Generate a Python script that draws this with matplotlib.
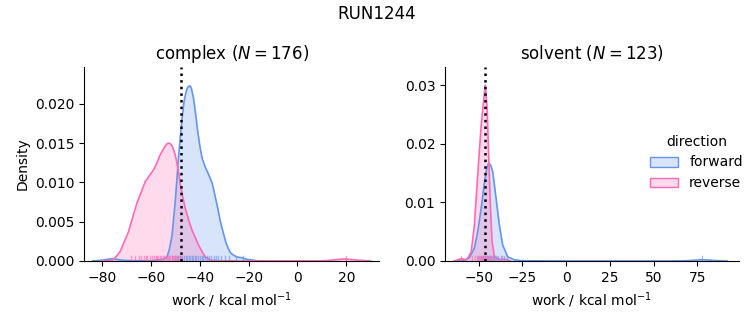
import matplotlib
matplotlib.use("Agg")
import matplotlib.pyplot as plt
from matplotlib.patches import Patch

FWD = "cornflowerblue"
REV = "hotpink"

# ---- complex panel: density curves ----
cx_fwd_x = [-84, -80, -76, -72, -68, -60, -55, -53.5, -52.5, -51.4, -50.1, -48.7, -47.3, -46.5, -45.6, -45.0,
            -44.2, -43.6, -42.6, -41.8, -40.9, -40.0, -39.1, -38.0, -37.0, -36.0, -35.0, -34.3, -33.6, -32.6,
            -31.6, -30.5, -29.5, -28.4, -27.4, -26.0, -24.7, -22.6, -20.6, -16.5, -12]
cx_fwd_y = [0, 0.0001, 0.0003, 0.0001, 0.00003, 0.00003, 0.0002, 0.0005, 0.0015, 0.0033, 0.0076, 0.0135, 0.0182,
            0.0203, 0.0216, 0.0221, 0.0223, 0.0221, 0.0207, 0.0188, 0.0165, 0.0146, 0.0131, 0.0121, 0.0114,
            0.0107, 0.0099, 0.0090, 0.0080, 0.0066, 0.0050, 0.0037, 0.0025, 0.0016, 0.0010, 0.0007, 0.0005,
            0.0004, 0.0002, 0.00003, 0]
cx_rev_x = [-80, -76, -74.8, -72.7, -69.3, -65.9, -62.4, -59.0, -57.6, -56.3, -54.3, -53.5, -52.8, -52.0, -51.3,
            -50.1, -49.0, -48.0, -47.0, -46.0, -44.6, -43.2, -41.8, -40.5, -39.0, -37.7, -35.7, -32, -20, 10, 14,
            17, 19.2, 21.5, 25, 30]
cx_rev_y = [0, 0.0001, 0.0004, 0.0012, 0.0037, 0.0073, 0.0101, 0.0116, 0.0125, 0.0135, 0.0146, 0.0149, 0.0150,
            0.0149, 0.0146, 0.0135, 0.0118, 0.0097, 0.0081, 0.0067, 0.0052, 0.0039, 0.0029, 0.0020, 0.0011,
            0.0005, 0.0001, 0.00002, 0, 0.00002, 0.0001, 0.0002, 0.00025, 0.0002, 0.0001, 0]
cx_rug_fwd = [-51.4, -50.3, -49.5, -48.8, -48.0, -47.2, -46.5, -45.9, -45.2, -44.6, -44.0, -43.4, -42.8, -42.1,
              -41.5, -40.8, -40.1, -39.3, -38.6, -37.8, -37.0, -36.2, -35.3, -34.4, -33.5, -32.4, -31.2, -29.8,
              -28.1, -25.4, -22.3]
cx_rug_rev = [-68.2, -66.5, -65.1, -64.0, -62.8, -62.0, -61.5, -60.6, -59.8, -58.9, -58.0, -57.6, -57.2, -56.5,
              -55.9, -55.1, -54.6, -54.0, -53.4, -53.0, -52.8, -52.1, -51.5, -50.9, -50.5, -50.2, -49.6, -49.0,
              -48.3, -47.7, 19.8]
cx_dg = -47.7
cx_n = 176

# ---- solvent panel ----
sv_fwd_x = [-62, -58.1, -55.3, -52.5, -50.6, -48.6, -46.7, -45.4, -44.3, -43.1, -42, -40.1, -38.2, -36.3, -33.4,
            -29.6, -25, 0, 60, 70, 74, 78, 82, 86, 92]
sv_fwd_y = [0, 0.0001, 0.0006, 0.0022, 0.005, 0.009, 0.0135, 0.0158, 0.0167, 0.0163, 0.0152, 0.0107, 0.0061,
            0.0027, 0.0007, 0.0002, 0.00003, 0, 0, 0.00005, 0.00015, 0.0002, 0.00015, 0.00005, 0]
sv_rev_x = [-64, -60, -57.5, -56.2, -54.3, -52.5, -50.6, -48.6, -46.3, -45.2, -44.3, -43.3, -42.4, -41, -38,
            -35.3, -32]
sv_rev_y = [0, 0.0004, 0.0002, 0.0005, 0.0016, 0.0061, 0.0147, 0.0232, 0.030, 0.026, 0.0175, 0.009, 0.0033,
            0.0007, 0.0002, 0.0003, 0]
sv_rug_fwd = [-50.5, -48.8, -47.4, -46.3, -45.3, -44.5, -43.7, -42.9, -42.1, -41.2, -40.2, -39.0, -37.5, -35.8,
              -33.6, 77.9]
sv_rug_rev = [-60.0, -53.6, -52.2, -51.0, -50.1, -49.3, -48.6, -48.0, -47.4, -46.8, -46.2, -45.6, -45.0, -44.3,
              -43.5, -42.4, -40.5, -36.5]
sv_dg = -46.3
sv_n = 123

fig = plt.figure(figsize=(7.53, 3.25), dpi=100)
ax1 = fig.add_axes([0.1116, 0.197, 0.392, 0.597])
ax2 = fig.add_axes([0.591, 0.197, 0.390, 0.597])


def draw(ax, fx, fy, rx, ry, rugf, rugr, dg):
    for x, y, c in ((fx, fy, FWD), (rx, ry, REV)):
        ax.fill_between(x, y, 0, color=c, alpha=0.25, linewidth=0)
        ax.plot(x, y, color=c, lw=1.2)
    for vals, c in ((rugf, FWD), (rugr, REV)):
        for v in vals:
            ax.axvline(v, ymin=0, ymax=0.028, color=c, alpha=0.6, lw=1)
    ax.axvline(dg, color="black", ls=":", lw=1.8)
    ax.spines["top"].set_visible(False)
    ax.spines["right"].set_visible(False)
    ax.set_xlabel("work / kcal mol$^{-1}$")


draw(ax1, cx_fwd_x, cx_fwd_y, cx_rev_x, cx_rev_y, cx_rug_fwd, cx_rug_rev, cx_dg)
ax1.set_xlim(-87.5, 33.5)
ax1.set_ylim(0, 0.0247)
ax1.set_xticks([-80, -60, -40, -20, 0, 20])
ax1.set_yticks([0, 0.005, 0.010, 0.015, 0.020])
ax1.set_yticklabels(["0.000", "0.005", "0.010", "0.015", "0.020"])
ax1.set_ylabel("Density")
ax1.set_title(f"complex ($N = {cx_n}$)")

draw(ax2, sv_fwd_x, sv_fwd_y, sv_rev_x, sv_rev_y, sv_rug_fwd, sv_rug_rev, sv_dg)
ax2.set_xlim(-69.3, 98.7)
ax2.set_ylim(0, 0.0331)
ax2.set_xticks([-50, -25, 0, 25, 50, 75])
ax2.set_yticks([0, 0.01, 0.02, 0.03])
ax2.set_yticklabels(["0.00", "0.01", "0.02", "0.03"])
ax2.set_title(f"solvent ($N = {sv_n}$)")

handles = [Patch(facecolor=(0.392, 0.584, 0.929, 0.25), edgecolor=FWD, label="forward"),
           Patch(facecolor=(1.0, 0.412, 0.706, 0.25), edgecolor=REV, label="reverse")]
fig.legend(handles=handles, title="direction", frameon=False, loc="center right",
           bbox_to_anchor=(1.003, 0.5), fontsize=10, title_fontsize=10)

fig.suptitle("RUN1244", y=0.985, fontsize=12)
fig.savefig("out.png", dpi=100)
